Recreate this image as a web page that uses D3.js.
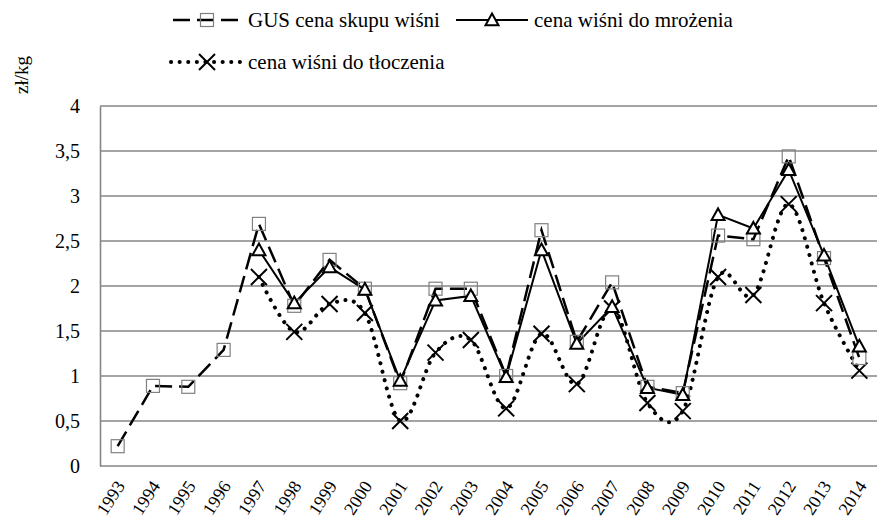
<!DOCTYPE html>
<html>
<head>
<meta charset="utf-8">
<script src="https://cdn.jsdelivr.net/npm/d3@7"></script>
<style>
  html, body { margin: 0; padding: 0; background: #fff; }
  svg { display: block; }
</style>
</head>
<body>
<svg id="chart" width="877" height="522"></svg>
<script>
const years = ["1993","1994","1995","1996","1997","1998","1999","2000","2001","2002","2003","2004","2005","2006","2007","2008","2009","2010","2011","2012","2013","2014"];
const gusValues = [0.22,0.89,0.88,1.29,2.69,1.78,2.29,1.97,0.92,1.97,1.97,1.00,2.62,1.38,2.04,0.88,0.81,2.56,2.52,3.44,2.31,1.20];
const mrozeniaValues = [null,null,null,null,2.40,1.81,2.21,1.96,0.95,1.84,1.89,0.99,2.40,1.36,1.77,0.87,0.79,2.79,2.64,3.29,2.34,1.33];
const tloczeniaValues = [null,null,null,null,2.10,1.49,1.80,1.70,0.50,1.26,1.40,0.64,1.47,0.91,1.75,0.70,0.61,2.10,1.90,2.91,1.81,1.06];
const yTicks = [0,0.5,1,1.5,2,2.5,3,3.5,4];
const seriesNames = ["GUS cena skupu wiśni","cena wiśni do mrożenia","cena wiśni do tłoczenia"];
const yUnit = "zł/kg";

const FONT = '"Liberation Serif", "Times New Roman", "DejaVu Serif", serif';
const svg = d3.select("#chart");
const pLeft = 100, pRight = 877, pTop = 106, pBottom = 466;
const x = d3.scaleBand().domain(years).range([pLeft, pRight]);
const y = d3.scaleLinear().domain([0,4]).range([pBottom, pTop]);
const cx = d => x(d) + x.bandwidth()/2;
const fmt = v => String(v).replace(".", ",");

// gridlines
svg.append("g").selectAll("line").data(yTicks.filter(t => t>0)).join("line")
  .attr("x1", pLeft).attr("x2", pRight).attr("y1", d=>y(d)).attr("y2", d=>y(d))
  .attr("stroke", "#868686").attr("stroke-width", 1.6);

// axes
const yAxis = d3.axisLeft(y).tickValues(yTicks).tickFormat(fmt).tickSize(0).tickPadding(20);
const gy = svg.append("g").attr("transform", `translate(${pLeft},0)`).call(yAxis);
gy.select(".domain").attr("stroke", "#868686").attr("stroke-width", 1.6);
gy.selectAll("text").style("font-family", FONT).style("font-size", "20px").attr("fill", "#000");

const xAxis = d3.axisBottom(x).tickSize(0).tickFormat(d=>d);
const gx = svg.append("g").attr("transform", `translate(0,${pBottom})`).call(xAxis);
gx.select(".domain").attr("stroke", "#868686").attr("stroke-width", 1.6).attr("d", `M${pLeft},0H${pRight}`);
gx.selectAll("text")
  .style("font-family", FONT).style("font-size", "18px").attr("fill", "#000")
  .attr("text-anchor", "end")
  .attr("dy", null).attr("y", 0)
  .attr("transform", "translate(8,20) rotate(-57)");

// y unit label
svg.append("text").attr("transform", "translate(28,75) rotate(-90)")
  .attr("text-anchor", "middle").style("font-family", FONT).style("font-size", "19px").text(yUnit);

// lines
const idx = years.map((d,i)=>i);
const lineLin = vals => d3.line().defined(i => vals[i] != null).x(i => cx(years[i])).y(i => y(vals[i]))(idx);
const lineSmooth = vals => d3.line().defined(i => vals[i] != null).curve(d3.curveCardinal.tension(0)).x(i => cx(years[i])).y(i => y(vals[i]))(idx);

svg.append("path").attr("d", lineSmooth(tloczeniaValues)).attr("fill","none")
  .attr("stroke","#000").attr("stroke-width",4).attr("stroke-linecap","round").attr("stroke-dasharray","0.1 8.5");
svg.append("path").attr("d", lineLin(gusValues)).attr("fill","none")
  .attr("stroke","#000").attr("stroke-width",2.5).attr("stroke-dasharray","17 7");
svg.append("path").attr("d", lineLin(mrozeniaValues)).attr("fill","none")
  .attr("stroke","#000").attr("stroke-width",2);

// markers
function square(g, px, py) {
  g.append("rect").attr("x", px-6.5).attr("y", py-6.5).attr("width",13).attr("height",13)
   .attr("fill","none").attr("stroke","#808080").attr("stroke-width",1.2);
}
function tri(g, px, py) {
  const s = 6.5;
  g.append("path").attr("d", `M${px},${py-s}L${px+s},${py+s*0.8}L${px-s},${py+s*0.8}Z`)
   .attr("fill","#fff").attr("stroke","#000").attr("stroke-width",2);
}
function cross(g, px, py) {
  const s = 8;
  g.append("path").attr("d", `M${px-s},${py-s}L${px+s},${py+s}M${px-s},${py+s}L${px+s},${py-s}`)
   .attr("stroke","#000").attr("stroke-width",2);
}
const mg = svg.append("g");
tloczeniaValues.forEach((v,i)=>{ if (v!=null) cross(mg, cx(years[i]), y(v)); });
gusValues.forEach((v,i)=>{ if (v!=null) square(mg, cx(years[i]), y(v)); });
mrozeniaValues.forEach((v,i)=>{ if (v!=null) tri(mg, cx(years[i]), y(v)); });

// legend
const lg = svg.append("g");
const r1 = 20, r2 = 62;
lg.append("line").attr("x1",173).attr("x2",240).attr("y1",r1).attr("y2",r1)
  .attr("stroke","#000").attr("stroke-width",2.5).attr("stroke-dasharray","17 7");
square(lg, 207, r1);
lg.append("text").attr("x",248).attr("y",r1+7).style("font-family", FONT).style("font-size","21px").text(seriesNames[0]);
lg.append("line").attr("x1",456).attr("x2",528).attr("y1",r1).attr("y2",r1)
  .attr("stroke","#000").attr("stroke-width",2);
tri(lg, 492, r1);
lg.append("text").attr("x",534).attr("y",r1+7).style("font-family", FONT).style("font-size","21px").text(seriesNames[1]);
lg.append("line").attr("x1",171).attr("x2",240).attr("y1",r2).attr("y2",r2)
  .attr("stroke","#000").attr("stroke-width",4).attr("stroke-linecap","round").attr("stroke-dasharray","0.1 8.5");
cross(lg, 207, r2);
lg.append("text").attr("x",248).attr("y",r2+7).style("font-family", FONT).style("font-size","21px").text(seriesNames[2]);
</script>
</body>
</html>
